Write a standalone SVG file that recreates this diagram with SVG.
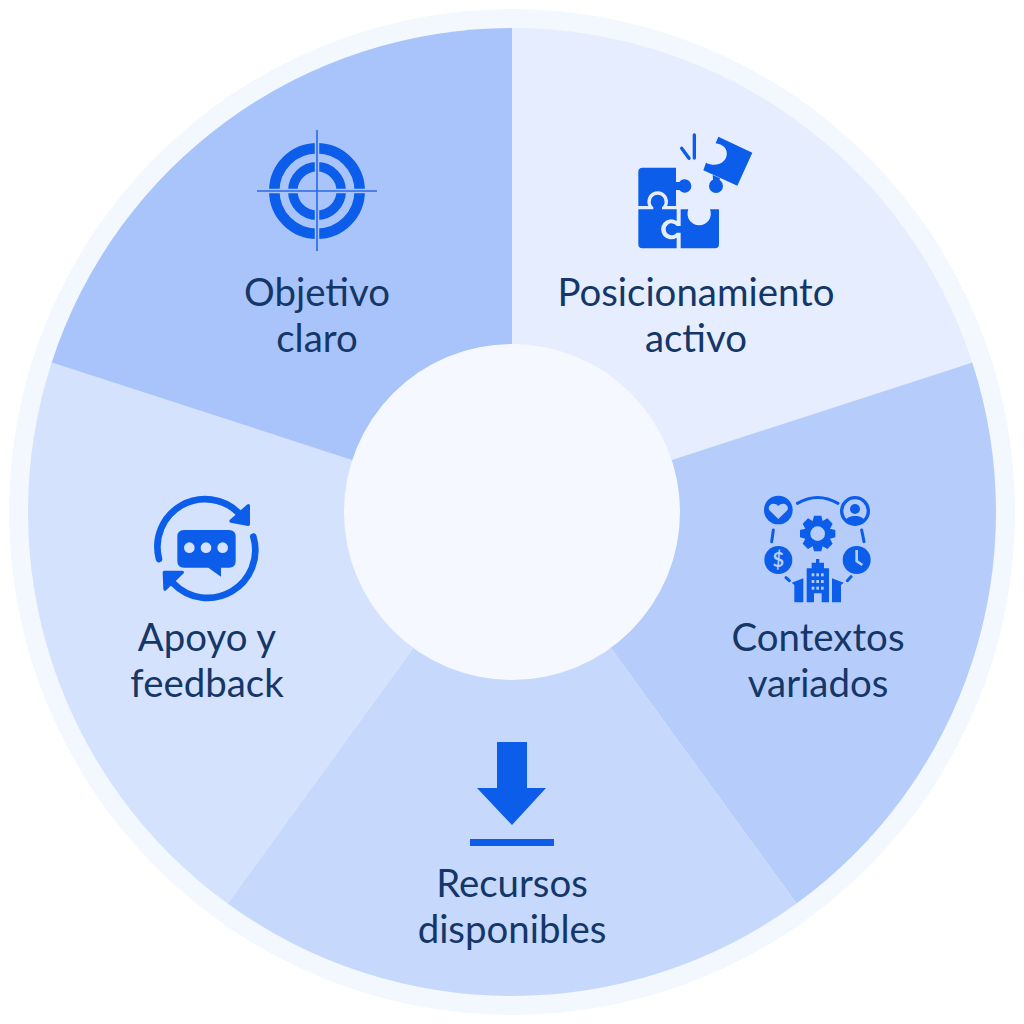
<svg xmlns="http://www.w3.org/2000/svg" width="1024" height="1024" viewBox="0 0 1024 1024">
<style>
.lbl{font-family:"Lato","Carlito","Liberation Sans",sans-serif;font-size:38.4px;fill:#143768;text-anchor:middle}
.ic{fill:#0b5dea}
.ln{fill:none;stroke:#0b5dea;stroke-linecap:round}
</style>
<rect width="1024" height="1024" fill="#ffffff"/>
<g id="wheel">
<circle cx="512" cy="512" r="503" fill="#f3f8fe"/>
<path d="M512,28A484,484 0 0 1 972.3,362.4L512,512Z" fill="#e5edfe"/>
<path d="M972.3,362.4A484,484 0 0 1 796.5,903.6L512,512Z" fill="#b6cdfb"/>
<path d="M796.5,903.6A484,484 0 0 1 227.5,903.6L512,512Z" fill="#c6d8fc"/>
<path d="M227.5,903.6A484,484 0 0 1 51.7,362.4L512,512Z" fill="#d4e2fd"/>
<path d="M51.7,362.4A484,484 0 0 1 512,28L512,512Z" fill="#a9c4fa"/>
<circle cx="512" cy="512" r="168" fill="#f5f9ff"/>
</g>
<g id="connectors"/>
<g id="node-objetivo">
<circle cx="317" cy="191" r="42.7" fill="none" stroke="#0b5dea" stroke-width="10.5"/>
<circle cx="317" cy="191" r="24.2" fill="none" stroke="#0b5dea" stroke-width="9.5"/>
<path d="M317,130V251M257,191H377" fill="none" stroke="#a9c4fa" stroke-width="4.5"/>
<path d="M317,130V251M257,191H377" fill="none" stroke="#2a69e6" stroke-width="1.6"/>
<text class="lbl" x="317" y="306">Objetivo</text>
<text class="lbl" x="317" y="352">claro</text>
</g>
<g id="node-posicionamiento">
<g transform="translate(620,120) scale(.33333)">
<path class="ic" d="M68,143H168V186H178A20,20 0 1 1 178,210H168V258H141A31,31 0 1 0 85,258H55V155Q55,143 68,143Z"/>
<path class="ic" d="M55,268H100V262A21,21 0 1 1 126,262V268H170V303A30,30 0 1 0 170,353V385H67Q55,385 55,373Z"/>
<path class="ic" d="M182,338H170A18,18 0 1 1 170,318H182V268H205A35,35 0 1 0 270,268H297V373Q297,385 285,385H182Z"/>
<path class="ic" d="M295,50L397,98L352,197L250,151L258,128C290,145 325,125 320,95C316,80 305,73 287,70Z"/>
<circle class="ic" cx="288" cy="198" r="21"/>
<path class="ic" d="M278,165L300,175L296,190L280,190Z"/>
<path class="ln" stroke-width="10" d="M223,45V114M185,85L207,115"/>
</g>
<text class="lbl" x="696" y="306">Posicionamiento</text>
<text class="lbl" x="696" y="352">activo</text>
</g>
<g id="node-contextos">
<g transform="translate(750,485) scale(.33333)">
<circle class="ic" cx="85" cy="75" r="43"/>
<path fill="#b6cdfb" d="M85,102L58,76C50,60 72,48 85,63C98,48 120,60 112,76Z"/>
<circle cx="315" cy="78" r="40" fill="none" stroke="#0b5dea" stroke-width="10"/>
<circle class="ic" cx="315" cy="72" r="15"/>
<path class="ic" d="M286,108C290,88 340,88 344,108A40,40 0 0 1 286,108Z"/>
<path class="ic" fill-rule="evenodd" d="M192,92H214L218,108L232,100L248,116L240,131L256,135V157L240,161L248,176L232,192L218,184L214,199H192L188,184L174,192L158,176L166,161L150,157V135L166,131L158,116L174,100L188,108ZM203,124A22,22 0 1 0 203,168A22,22 0 1 0 203,124Z"/>
<circle class="ic" cx="85" cy="225" r="42"/>
<text x="85" y="246" font-family="Lato,'Liberation Sans',sans-serif" font-size="60" font-weight="700" fill="#b6cdfb" text-anchor="middle">$</text>
<circle class="ic" cx="320" cy="225" r="42"/>
<path d="M320,195V228L337,240" fill="none" stroke="#b6cdfb" stroke-width="8"/>
<path class="ln" stroke-width="9" d="M142,55Q203,20 264,55M70,135L65,170M335,135L342,170M108,278L118,287M292,287L303,275"/>
<path class="ic" d="M198,222H208V233H222V250H237V352H215V325H192V352H170V250H185V233H198Z"/>
<path class="ic" d="M125,293L160,280V352H133V300ZM281,293L246,280V352H273V300Z"/>
<g fill="#b6cdfb"><rect x="185" y="265" width="8" height="9"/><rect x="199" y="265" width="8" height="9"/><rect x="213" y="265" width="8" height="9"/><rect x="185" y="285" width="8" height="9"/><rect x="199" y="285" width="8" height="9"/><rect x="213" y="285" width="8" height="9"/><rect x="185" y="305" width="8" height="9"/><rect x="199" y="305" width="8" height="9"/><rect x="213" y="305" width="8" height="9"/></g>
</g>
<text class="lbl" x="818" y="651">Contextos</text>
<text class="lbl" x="818" y="697">variados</text>
</g>
<g id="node-recursos">
<path class="ic" d="M497,742H527V788H546L512,825L477,788H497Z"/>
<rect class="ic" x="470" y="839" width="84" height="7"/>
<text class="lbl" x="512" y="897">Recursos</text>
<text class="lbl" x="512" y="943">disponibles</text>
</g>
<g id="node-apoyo">
<g transform="translate(145,485) scale(.33333)">
<path class="ln" stroke-width="20" d="M42,222A143,143 0 0 1 282,85M325,155A143,143 0 0 1 85,295"/>
<path class="ic" stroke="#0b5dea" stroke-width="10" stroke-linejoin="round" d="M310,62V118L258,108Z"/>
<path class="ic" stroke="#0b5dea" stroke-width="10" stroke-linejoin="round" d="M58,262L112,262L60,312Z"/>
<path class="ic" d="M117,135H252Q272,135 272,155V228Q272,248 252,248H228V275L190,248H117Q97,248 97,228V155Q97,135 117,135Z"/>
<g fill="#d4e2fd"><circle cx="133" cy="188" r="16"/><circle cx="183" cy="188" r="16"/><circle cx="233" cy="188" r="16"/></g>
</g>
<text class="lbl" x="207" y="651">Apoyo y</text>
<text class="lbl" x="207" y="697">feedback</text>
</g>
</svg>
